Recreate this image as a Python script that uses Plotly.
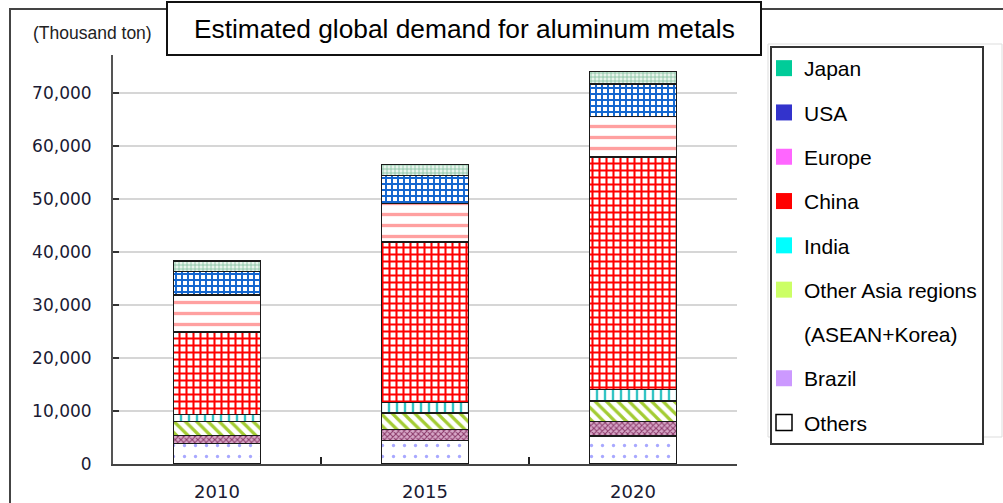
import plotly.graph_objects as go

# Estimated global demand for aluminum metals (thousand tons)
years = ["2010", "2015", "2020"]
others = [3900, 4500, 5300]
brazil = [1500, 2000, 2700]
other_asia = [2600, 3100, 3900]
india = [1400, 2000, 2200]
china = [15500, 30300, 43800]
europe = [7000, 7300, 7700]
usa = [4400, 5200, 6100]
japan = [2000, 2100, 2400]

y_ticks = [0, 10000, 20000, 30000, 40000, 50000, 60000, 70000]

# Stacking order, bottom to top: (name, values, pattern shape, fg, bg, size, solidity)
stack = [
    ("Others", others, ".", "#a8a8ff", "#ffffff", 11, 0.07),
    ("Brazil", brazil, "x", "#8a3a6a", "#d8a8c8", 4, 0.45),
    ("Other Asia regions", other_asia, "\\", "#a3cc33", "#ffffff", 8, 0.4),
    ("India", india, "|", "#33c4c4", "#ffffff", 8, 0.3),
    ("China", china, "+", "#ff0000", "#ffffff", 7, 0.5),
    ("Europe", europe, "-", "#ffa0a0", "#ffffff", 11, 0.3),
    ("USA", usa, "+", "#1467d0", "#ffffff", 6, 0.55),
    ("Japan", japan, "+", "#7fbf9c", "#e8f4ec", 4, 0.35),
]

# Legend swatches, top to bottom
legend_names = ["Japan", "USA", "Europe", "China", "India",
                "Other Asia regions", "(ASEAN+Korea)", "Brazil", "Others"]
legend_colors = ["#00cc99", "#3333cc", "#ff66ff", "#ff0000", "#00ffff",
                 "#ccff66", "rgba(0,0,0,0)", "#cc99ff", "#ffffff"]
legend_edges = ["#00cc99", "#3333cc", "#ff66ff", "#ff0000", "#00ffff",
                "#ccff66", "rgba(0,0,0,0)", "#cc99ff", "#000000"]

W, H = 1003, 503
L, R, T, B = 113, 737, 55, 464


def px_x(px):
    return (px - L) / (R - L)


def px_y(py):
    return (B - py) / (B - T)


fig = go.Figure()

for name, vals, shape, fg, bg, size, sol in stack:
    fig.add_trace(go.Bar(
        x=years, y=vals, name=name, width=0.415, showlegend=False,
        marker=dict(
            color=bg,
            line=dict(color="#1a1a1a", width=1.3),
            pattern=dict(shape=shape, fgcolor=fg, bgcolor=bg,
                         size=size, solidity=sol, fillmode="replace"),
        ),
        hovertemplate=name + ": %{y:,}<extra></extra>",
    ))

for i, (name, col, edge) in enumerate(zip(legend_names, legend_colors, legend_edges)):
    fig.add_trace(go.Scatter(
        x=[None], y=[None], mode="markers", name=name,
        legendgroup="g%d" % i,
        marker=dict(symbol="square", size=16, color=col,
                    line=dict(color=edge, width=1.5 if name == "Others" else 0)),
    ))

shapes = [
    # outer frame
    dict(type="rect", xref="paper", yref="paper",
         x0=px_x(10), x1=px_x(1020), y0=px_y(520), y1=px_y(9),
         line=dict(color="#444444", width=2), fillcolor="rgba(0,0,0,0)", layer="below"),
    # light box behind the legend
    dict(type="rect", xref="paper", yref="paper",
         x0=px_x(768), x1=px_x(1002), y0=px_y(437), y1=px_y(44),
         line=dict(color="#dddddd", width=1), fillcolor="rgba(0,0,0,0)", layer="below"),
    # title box
    dict(type="rect", xref="paper", yref="paper",
         x0=px_x(167), x1=px_x(761), y0=px_y(55), y1=px_y(2),
         line=dict(color="#111111", width=2), fillcolor="#ffffff", layer="above"),
]

annotations = [
    dict(text="Estimated global demand for aluminum metals",
         xref="paper", yref="paper", x=px_x(464), y=px_y(29),
         xanchor="center", yanchor="middle", showarrow=False,
         font=dict(family="Liberation Sans, Arial", size=26.3, color="#000000")),
    dict(text="(Thousand ton)",
         xref="paper", yref="paper", x=px_x(92), y=px_y(33),
         xanchor="center", yanchor="middle", showarrow=False,
         font=dict(family="Liberation Sans, Arial", size=17.5, color="#222222")),
]

fig.update_layout(
    width=W, height=H,
    margin=dict(l=L, r=W - R, t=T, b=H - B, pad=0),
    paper_bgcolor="#ffffff", plot_bgcolor="#ffffff",
    barmode="stack",
    shapes=shapes,
    annotations=annotations,
    showlegend=True,
    legend=dict(
        x=px_x(770), y=px_y(46), xanchor="left", yanchor="top",
        bgcolor="#ffffff", bordercolor="#333333", borderwidth=2,
        traceorder="grouped", tracegroupgap=14, indentation=-8,
        maxheight=480,
        font=dict(family="Liberation Sans, Arial", size=21, color="#000000"),
    ),
    xaxis=dict(
        type="category", categoryorder="array", categoryarray=years,
        range=[-0.5, 2.5], automargin=False,
        showline=True, linecolor="#444444", linewidth=2,
        ticks="inside", tickson="boundaries", ticklen=7, tickwidth=1.5,
        tickcolor="#222222", showgrid=False, ticklabelstandoff=10,
        tickfont=dict(family="DejaVu Sans", size=18, color="#1a1a33"),
    ),
    yaxis=dict(
        range=[0, 77170], tickvals=y_ticks, tickformat=",",
        automargin=False,
        showline=True, linecolor="#555555", linewidth=2,
        ticks="inside", ticklen=6, tickwidth=1.5, tickcolor="#333333",
        showgrid=True, gridcolor="#d6d6d6", gridwidth=1.5,
        zeroline=False, ticklabelstandoff=16,
        tickfont=dict(family="DejaVu Sans", size=17, color="#1a1a33"),
    ),
)

fig.write_html("out.html")
